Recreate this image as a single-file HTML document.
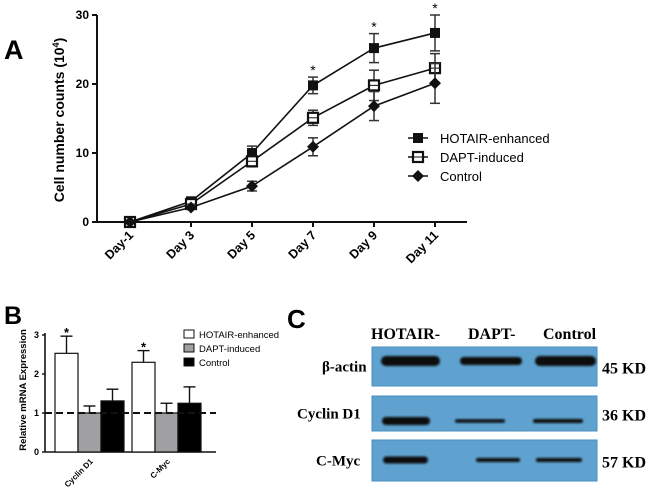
<!DOCTYPE html>
<html><head><meta charset="utf-8"><style>
body{margin:0;background:#fff;width:650px;height:493px;overflow:hidden}
svg{display:block}
.sans{font-family:"Liberation Sans",Arial,sans-serif}
.serif{font-family:"Liberation Serif","Times New Roman",serif}
</style></head><body>
<svg id="chart" width="650" height="493" xmlns="http://www.w3.org/2000/svg">
<defs><filter id="blur" x="-10%" y="-50%" width="120%" height="200%"><feGaussianBlur stdDeviation="1"/></filter></defs>
<g id="panelA"></g>
<g id="panelB"></g>
<g id="panelC"></g>
</svg>
<script>
// Panel A data
const daysA = ["Day-1","Day 3","Day 5","Day 7","Day 9","Day 11"];
const seriesNamesA = ["HOTAIR-enhanced","DAPT-induced","Control"];
const hotairA = [0,3.0,10.0,19.8,25.2,27.4];
const daptA = [0,2.6,8.8,15.1,19.8,22.3];
const controlA = [0,2.1,5.2,10.9,16.8,20.1];
const hotairErrA = [0,0.3,1.0,1.2,2.1,2.6];
const daptErrA = [0,0.3,0.8,1.1,2.2,2.1];
const controlErrA = [0,0.2,0.7,1.3,2.1,2.9];
const starA = [false,false,false,true,true,true];
const yTicksA = [0,10,20,30];
// Panel B data
const genesB = ["Cyclin D1","C-Myc"];
const seriesNamesB = ["HOTAIR-enhanced","DAPT-induced","Control"];
const hotairB = [2.53,2.3];
const daptB = [1.0,1.0];
const controlB = [1.31,1.25];
const hotairErrB = [0.44,0.3];
const daptErrB = [0.18,0.25];
const controlErrB = [0.3,0.42];
const yTicksB = [0,1,2,3];

const NS="http://www.w3.org/2000/svg";
function mk(parent,tag,attrs,text){const e=document.createElementNS(NS,tag);for(const k in attrs)e.setAttribute(k,attrs[k]);if(text!==undefined)e.textContent=text;parent.appendChild(e);return e;}

// ---------- Panel A ----------
const A=document.getElementById('panelA');
const axL=97, axR=467, y0=222, y30=15;
const xA=i=>130+i*61;
const yA=v=>y0-(v/30)*(y0-y30);
let t=mk(A,'text',{x:4,y:59,'font-size':27,'font-weight':'bold',class:'sans'},'A');

let ax=mk(A,'line',{x1:axL,y1:y30,x2:axL,y2:y0+1,stroke:'#111','stroke-width':2});

ax=mk(A,'line',{x1:axL,y1:y0,x2:axR,y2:y0,stroke:'#111','stroke-width':2});

yTicksA.forEach(v=>{
  mk(A,'line',{x1:axL-5,y1:yA(v),x2:axL,y2:yA(v),stroke:'#111','stroke-width':2});
  const l=mk(A,'text',{x:axL-8,y:yA(v)+4,'font-size':12,'font-weight':'bold','text-anchor':'end',class:'sans'},String(v));
  
});
daysA.forEach((d,i)=>{
  mk(A,'line',{x1:xA(i),y1:y0,x2:xA(i),y2:y0+5,stroke:'#111','stroke-width':2});
  const l=mk(A,'text',{x:xA(i)+4,y:y0+14,'font-size':12.5,'font-weight':'bold','text-anchor':'end',class:'sans',transform:`rotate(-45 ${xA(i)+4} ${y0+14})`},d);
  
});
t=mk(A,'text',{x:0,y:0,'font-size':14,'font-weight':'bold','text-anchor':'middle',class:'sans',transform:'translate(64,120) rotate(-90)'},'Cell number counts (10');
mk(t,'tspan',{dy:-5,'font-size':9},'4');mk(t,'tspan',{dy:5},')');


function marker(g,type,x,y){
  if(type===0) return mk(g,'rect',{x:x-5,y:y-5,width:10,height:10,fill:'#111'});
  if(type===1){const gg=mk(g,'g',{});mk(gg,'rect',{x:x-5,y:y-5,width:10,height:10,fill:'#fff',stroke:'#111','stroke-width':2.2});mk(gg,'line',{x1:x-4,y1:y,x2:x+4,y2:y,stroke:'#111','stroke-width':1});return gg;}
  return mk(g,'polygon',{points:`${x},${y-6} ${x+6},${y} ${x},${y+6} ${x-6},${y}`,fill:'#111'});
}
const sA=[hotairA,daptA,controlA], eA=[hotairErrA,daptErrA,controlErrA];
sA.forEach((vals,si)=>{
  const g=mk(A,'g',{});
  
  mk(g,'polyline',{points:vals.map((v,i)=>xA(i)+','+yA(v)).join(' '),fill:'none',stroke:'#111','stroke-width':1.6});
  vals.forEach((v,i)=>{
    const e=eA[si][i];
    if(e>0){
      mk(g,'line',{x1:xA(i),y1:yA(v+e),x2:xA(i),y2:yA(v-e),stroke:'#333','stroke-width':1.5});
      mk(g,'line',{x1:xA(i)-5,y1:yA(v+e),x2:xA(i)+5,y2:yA(v+e),stroke:'#333','stroke-width':1.5});
      mk(g,'line',{x1:xA(i)-5,y1:yA(v-e),x2:xA(i)+5,y2:yA(v-e),stroke:'#333','stroke-width':1.5});
    }
    const m=marker(g,si,xA(i),yA(v));
    
  });
});
starA.forEach((s,i)=>{ if(s){const st=mk(A,'text',{x:xA(i),y:yA(hotairA[i]+hotairErrA[i])-2,'font-size':14,'text-anchor':'middle',class:'sans'},'*');
  }});
seriesNamesA.forEach((n,i)=>{
  const y=138+i*19;const g=mk(A,'g',{});
  
  mk(g,'line',{x1:408,y1:y,x2:428,y2:y,stroke:'#111','stroke-width':1.6});
  marker(g,i,418,y);
  mk(g,'text',{x:440,y:y+5,'font-size':13,class:'sans'},n);
});

// ---------- Panel B ----------
const B=document.getElementById('panelB');
const bL=45,bR=216,bY0=452,bUnit=39;
const yB=v=>bY0-v*bUnit;
const groupX=[55,132], barW=23;
t=mk(B,'text',{x:4,y:324,'font-size':25,'font-weight':'bold',class:'sans'},'B');

ax=mk(B,'line',{x1:bL,y1:yB(3)-2,x2:bL,y2:bY0,stroke:'#111','stroke-width':1.6});

ax=mk(B,'line',{x1:bL,y1:bY0,x2:bR,y2:bY0,stroke:'#111','stroke-width':1.6});

yTicksB.forEach(v=>{
  mk(B,'line',{x1:bL-3,y1:yB(v),x2:bL,y2:yB(v),stroke:'#111','stroke-width':1.4});
  const l=mk(B,'text',{x:bL-6,y:yB(v)+3,'font-size':9,'font-weight':'bold','text-anchor':'end',class:'sans'},String(v));
  
});
t=mk(B,'text',{x:0,y:0,'font-size':9.5,'font-weight':'bold','text-anchor':'middle',class:'sans',transform:'translate(26,390) rotate(-90)'},'Relative mRNA Expression');

const sB=[hotairB,daptB,controlB],eB=[hotairErrB,daptErrB,controlErrB],fills=['#fff','#a0a0a2','#000'];
genesB.forEach((gname,gi)=>{
  sB.forEach((vals,si)=>{
    const x=groupX[gi]+si*barW,v=vals[gi],e=eB[si][gi];
    const cx=x+barW/2;
    mk(B,'line',{x1:cx,y1:yB(v),x2:cx,y2:yB(v+e),stroke:'#111','stroke-width':1.4});
    mk(B,'line',{x1:cx-6,y1:yB(v+e),x2:cx+6,y2:yB(v+e),stroke:'#111','stroke-width':1.4});
    const r=mk(B,'rect',{x:x,y:yB(v),width:barW,height:v*bUnit,fill:fills[si],stroke:'#111','stroke-width':1.2});
    
  });
  const st=mk(B,'text',{x:groupX[gi]+barW/2,y:yB(hotairB[gi]+hotairErrB[gi])+1,'font-size':13,'font-weight':'bold','text-anchor':'middle',class:'sans'},'*');
  
  const cx=groupX[gi]+barW*1.5;
  const l=mk(B,'text',{x:cx+4,y:bY0+10,'font-size':8,'font-weight':'bold','text-anchor':'end',class:'sans',transform:`rotate(-45 ${cx+4} ${bY0+10})`},gname);
  
});
const dl=mk(B,'line',{x1:bL,y1:yB(1),x2:bR,y2:yB(1),stroke:'#111','stroke-width':2,'stroke-dasharray':'7,4'});

seriesNamesB.forEach((n,i)=>{
  const y=334+i*14;const g=mk(B,'g',{});
  
  mk(g,'rect',{x:184,y:y-4,width:10,height:8,fill:fills[i],stroke:'#111','stroke-width':1});
  mk(g,'text',{x:199,y:y+4,'font-size':9.5,class:'sans'},n);
});

// ---------- Panel C ----------
const C=document.getElementById('panelC');
t=mk(C,'text',{x:287,y:328,'font-size':26,'font-weight':'bold',class:'sans'},'C');

[['HOTAIR-',371],['DAPT-',468],['Control',543]].forEach(([s,x])=>{const l=mk(C,'text',{x:x,y:339,'font-size':16,'font-weight':'bold',class:'serif'},s);
  });
const rows=[
 {n:'β-actin',lx:322,y:347,h:39,kd:'45 KD',bands:[[381,440,10],[460,522,8],[535,596,10]],by:361},
 {n:'Cyclin D1',lx:297,y:396,h:35,kd:'36 KD',bands:[[382,430,8],[455,505,3.5],[533,583,4]],by:421},
 {n:'C-Myc',lx:316,y:440,h:41,kd:'57 KD',bands:[[383,428,7],[476,520,4],[536,582,4]],by:460}];
rows.forEach(r=>{
  const g=mk(C,'g',{});
  
  mk(g,'rect',{x:372,y:r.y,width:225,height:r.h,fill:'#5fa2cf',stroke:'#4a8ec0','stroke-width':1});
  r.bands.forEach(([a,b,h])=>mk(g,'rect',{x:a,y:r.by-h/2,width:b-a,height:h,rx:h/2,fill:'#0c0c10',filter:'url(#blur)'}));
  mk(g,'text',{x:r.lx,y:r.y+r.h/2+5,'font-size':15,'font-weight':'bold',class:'serif'},r.n);
  mk(g,'text',{x:602,y:r.y+r.h/2+7,'font-size':16,'font-weight':'bold',class:'serif'},r.kd);
});
</script>
</body></html>
